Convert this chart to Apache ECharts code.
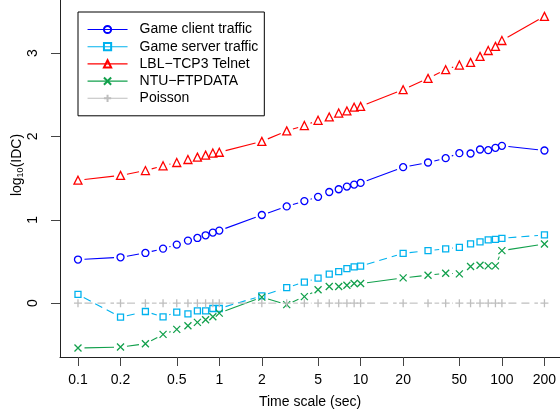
<!DOCTYPE html>
<html>
<head>
<meta charset="utf-8">
<script src="https://cdn.jsdelivr.net/npm/echarts@6/dist/echarts.min.js"></script>
<style>
  html, body { margin: 0; padding: 0; background: #fff; }
  #chart { width: 560px; height: 414px; }
</style>
</head>
<body>
<div id="chart"></div>
<script>
// Aggregation time scales (seconds)
const timeScales = [0.1, 0.2, 0.3, 0.4, 0.5, 0.6, 0.7, 0.8, 0.9, 1,
                    2, 3, 4, 5, 6, 7, 8, 9, 10,
                    20, 30, 40, 50, 60, 70, 80, 90, 100, 200];

// log10 of the index of dispersion for counts, per trace
const gameClient = [0.523, 0.55, 0.602, 0.654, 0.702, 0.75, 0.782, 0.814, 0.846, 0.87,
                    1.057, 1.16, 1.224, 1.275, 1.333, 1.366, 1.398, 1.422, 1.442,
                    1.631, 1.687, 1.739, 1.799, 1.795, 1.843, 1.835, 1.863, 1.887, 1.831];
const gameServer = [0.104, -0.168, -0.10, -0.164, -0.108, -0.128, -0.092, -0.092, -0.064, -0.064,
                    0.088, 0.185, 0.253, 0.299, 0.347, 0.379, 0.415, 0.435, 0.443,
                    0.598, 0.63, 0.65, 0.67, 0.71, 0.734, 0.758, 0.766, 0.778, 0.818];
const telnet     = [1.475, 1.532, 1.59, 1.647, 1.687, 1.723, 1.751, 1.775, 1.80, 1.81,
                    1.94, 2.066, 2.13, 2.193, 2.233, 2.28, 2.305, 2.35, 2.36,
                    2.56, 2.696, 2.80, 2.856, 2.888, 2.96, 3.03, 3.08, 3.15, 3.44];
const ftpData    = [-0.538, -0.527, -0.487, -0.375, -0.315, -0.271, -0.231, -0.20, -0.164, -0.12,
                    0.072, -0.018, 0.078, 0.16, 0.20, 0.20, 0.215, 0.235, 0.235,
                    0.303, 0.335, 0.359, 0.351, 0.439, 0.455, 0.447, 0.447, 0.63, 0.71];
const poisson    = [0, 0, 0, 0, 0, 0, 0, 0, 0, 0,
                    0, 0, 0, 0, 0, 0, 0, 0, 0,
                    0, 0, 0, 0, 0, 0, 0, 0, 0, 0];

const seriesNames = ['Game client traffic', 'Game server traffic', 'LBL\u2212TCP3 Telnet', 'NTU\u2212FTPDATA', 'Poisson'];
const xTicks = [0.1, 0.2, 0.5, 1, 2, 5, 10, 20, 50, 100, 200];
const yTicks = [0, 1, 2, 3];

const FONT = 'Liberation Sans, Arial, Helvetica, sans-serif';
const GAP = 6.5; // blank space left around each marker, in pixels

const crossPath = 'path://M0,0L10,10M10,0L0,10';
const plusPath = 'path://M5,0L5,10M0,5L10,5';

const styles = [
  { values: gameClient, color: '#0000FF', symbol: 'circle',   size: 7, dash: null },
  { values: gameServer, color: '#00B2EE', symbol: 'rect',     size: 6, dash: [8, 5] },
  { values: telnet,     color: '#FF0000', symbol: 'triangle', size: 8, dash: null },
  { values: ftpData,    color: '#12A04C', symbol: crossPath,  size: 7, dash: null },
  { values: poisson,    color: '#BEBEBE', symbol: plusPath,   size: 8, dash: [8, 5] }
];

// consecutive point pairs -> segments [x0, y0, x1, y1]
function segmentsOf(values) {
  const segs = [];
  for (let i = 0; i + 1 < timeScales.length; i++) {
    segs.push([timeScales[i], values[i], timeScales[i + 1], values[i + 1]]);
  }
  return segs;
}

function makeSegmentRenderer(color, dash) {
  return function (params, api) {
    const a = api.coord([api.value(0), api.value(1)]);
    const b = api.coord([api.value(2), api.value(3)]);
    const dx = b[0] - a[0], dy = b[1] - a[1];
    const len = Math.sqrt(dx * dx + dy * dy);
    if (len <= 2 * GAP + 0.5) return null;
    const ux = dx / len, uy = dy / len;
    return {
      type: 'line',
      shape: { x1: a[0] + ux * GAP, y1: a[1] + uy * GAP, x2: b[0] - ux * GAP, y2: b[1] - uy * GAP },
      style: { stroke: color, lineWidth: 1.1, lineDash: dash || null, fill: null }
    };
  };
}

const series = [];
styles.forEach((s, k) => {
  series.push({
    type: 'custom',
    name: seriesNames[k] + ' segments',
    silent: true,
    renderItem: makeSegmentRenderer(s.color, s.dash),
    encode: { x: [0, 2], y: [1, 3] },
    data: segmentsOf(s.values),
    animation: false
  });
  const isPath = s.symbol.indexOf('path://') === 0;
  series.push({
    type: 'line',
    name: seriesNames[k],
    silent: true,
    data: timeScales.map((t, i) => [t, s.values[i]]),
    symbol: s.symbol,
    symbolSize: s.size,
    showSymbol: true,
    showAllSymbol: true,
    lineStyle: { color: s.color, width: 1, opacity: 0 },
    itemStyle: {
      color: isPath ? s.color : 'rgba(0,0,0,0)',
      borderColor: s.color,
      borderWidth: 1.3
    },
    emphasis: { disabled: true },
    animation: false
  });
});

const chart = echarts.init(document.getElementById('chart'), null, { renderer: 'canvas' });
chart.setOption({
  animation: false,
  backgroundColor: '#fff',
  textStyle: { fontFamily: FONT },
  grid: { left: 60, right: 0, top: 0, bottom: 56, containLabel: false },
  legend: {
    data: seriesNames,
    orient: 'vertical',
    left: 78,
    top: 12,
    padding: [10.5, 6, 10.5, 9],
    borderColor: '#000',
    borderWidth: 1,
    backgroundColor: '#fff',
    itemWidth: 40,
    itemHeight: 9,
    itemGap: 3.2,
    selectedMode: false,
    lineStyle: { opacity: 1, type: 'solid', width: 1.1 },
    textStyle: { fontFamily: FONT, fontSize: 14, lineHeight: 14, color: '#000', padding: [0, 0, 0, 7] }
  },
  xAxis: {
    type: 'log',
    logBase: 10,
    min: 0.0746,
    max: 257.7,
    name: 'Time scale (sec)',
    nameLocation: 'middle',
    nameGap: 38,
    nameTextStyle: { fontFamily: FONT, fontSize: 14, color: '#000' },
    axisLine: { show: true, onZero: false, lineStyle: { color: '#222', width: 1 } },
    axisTick: { show: true, length: 9, customValues: xTicks, lineStyle: { color: '#444' } },
    axisLabel: {
      show: true, customValues: xTicks, margin: 16, fontFamily: FONT, fontSize: 14, color: '#000',
      formatter: v => String(Math.round(v * 10) / 10)
    },
    minorTick: { show: false },
    splitLine: { show: false }
  },
  yAxis: {
    type: 'value',
    min: -0.646,
    max: 3.636,
    axisLine: { show: true, onZero: false, lineStyle: { color: '#222', width: 1 } },
    axisTick: { show: true, length: 9, customValues: yTicks, lineStyle: { color: '#444' } },
    axisLabel: {
      show: true, customValues: yTicks, rotate: 90, margin: 20, fontFamily: FONT, fontSize: 14, color: '#000',
      formatter: v => String(v)
    },
    splitLine: { show: false }
  },
  graphic: [{
    type: 'text',
    x: 17,
    y: 165,
    rotation: Math.PI / 2,
    silent: true,
    style: {
      text: '{a|log}{b|10}{a|(IDC)}',
      align: 'center',
      verticalAlign: 'middle',
      rich: {
        a: { fontFamily: FONT, fontSize: 14, color: '#000', lineHeight: 16 },
        b: { fontFamily: FONT, fontSize: 9, color: '#000', lineHeight: 16, verticalAlign: 'bottom', padding: [6, 0, 0, 0] }
      }
    }
  }],
  series: series
});
</script>
</body>
</html>
